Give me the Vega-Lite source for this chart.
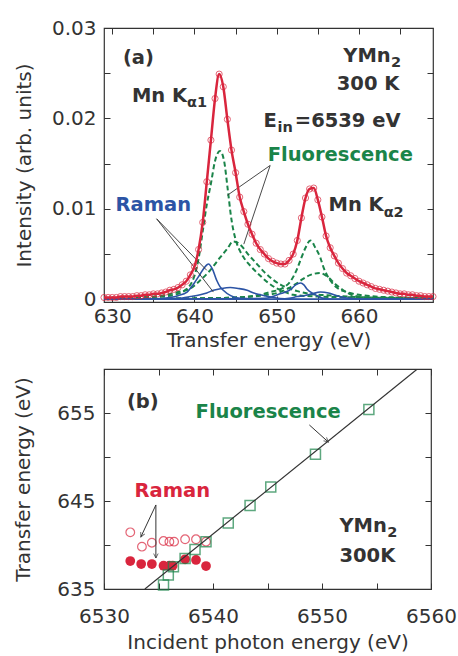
{
  "$schema": "https://vega.github.io/schema/vega-lite/v6.json",
  "background": "white",
  "padding": {"left": 13, "top": 17, "right": 0, "bottom": 0},
  "spacing": 7,
  "config": {
    "font": "DejaVu Sans",
    "view": {"stroke": "#333333", "strokeWidth": 1.2},
    "axis": {
      "grid": false, "domain": false,
      "tickColor": "#333333", "tickWidth": 1, "tickSize": -6,
      "labelFont": "DejaVu Sans", "labelFontSize": 20, "labelColor": "#333333",
      "labelPadding": 14, "labelFlush": false, "labelOverlap": false, "labelBound": false,
      "titleFont": "DejaVu Sans", "titleFontSize": 20, "titleFontWeight": "normal", "titleColor": "#333333"
    }
  },
  "datasets": {
    "tot": [
      {"x":629,"y":0.0002},{"x":629.5,"y":0.0002},{"x":630,"y":0.0002},{"x":630.5,"y":0.0002},
      {"x":631,"y":0.0003},{"x":631.5,"y":0.0003},{"x":632,"y":0.0003},{"x":632.5,"y":0.0003},
      {"x":633,"y":0.0004},{"x":633.5,"y":0.0004},{"x":634,"y":0.0005},{"x":634.5,"y":0.0005},
      {"x":635,"y":0.0006},{"x":635.5,"y":0.0006},{"x":636,"y":0.0007},{"x":636.5,"y":0.0008},
      {"x":637,"y":0.0010},{"x":637.5,"y":0.0011},{"x":638,"y":0.0013},{"x":638.5,"y":0.0016},
      {"x":639,"y":0.0020},{"x":639.5,"y":0.0027},{"x":640,"y":0.0036},{"x":640.5,"y":0.0055},
      {"x":641,"y":0.0085},{"x":641.5,"y":0.0130},{"x":642,"y":0.0176},{"x":642.5,"y":0.0222},
      {"x":643,"y":0.0249},{"x":643.5,"y":0.0235},{"x":644,"y":0.0199},{"x":644.5,"y":0.0165},
      {"x":645,"y":0.0140},{"x":645.5,"y":0.0113},{"x":646,"y":0.0097},{"x":646.5,"y":0.0083},
      {"x":647,"y":0.0072},{"x":647.5,"y":0.0062},{"x":648,"y":0.0055},{"x":648.5,"y":0.0050},
      {"x":649,"y":0.0045},{"x":649.5,"y":0.0042},{"x":650,"y":0.0040},{"x":650.5,"y":0.0039},
      {"x":651,"y":0.0039},{"x":651.5,"y":0.0043},{"x":652,"y":0.0050},{"x":652.5,"y":0.0065},
      {"x":653,"y":0.0090},{"x":653.5,"y":0.0112},{"x":654,"y":0.0122},{"x":654.5,"y":0.0123},
      {"x":655,"y":0.0110},{"x":655.5,"y":0.0091},{"x":656,"y":0.0070},{"x":656.5,"y":0.0057},
      {"x":657,"y":0.0048},{"x":657.5,"y":0.0040},{"x":658,"y":0.0034},{"x":658.5,"y":0.0029},
      {"x":659,"y":0.0026},{"x":659.5,"y":0.0023},{"x":660,"y":0.0020},{"x":660.5,"y":0.0018},
      {"x":661,"y":0.0016},{"x":661.5,"y":0.0014},{"x":662,"y":0.0012},{"x":662.5,"y":0.0011},
      {"x":663,"y":0.0010},{"x":663.5,"y":0.0009},{"x":664,"y":0.0008},{"x":664.5,"y":0.0007},
      {"x":665,"y":0.0006},{"x":665.5,"y":0.0006},{"x":666,"y":0.0005},{"x":666.5,"y":0.0005},
      {"x":667,"y":0.0004},{"x":667.5,"y":0.0004},{"x":668,"y":0.0003},{"x":668.5,"y":0.0003},
      {"x":669,"y":0.0003}
    ],
    "comp": [
      {"k":"F1","x":629,"y":0.0001},{"k":"F1","x":633,"y":0.0002},{"k":"F1","x":636,"y":0.0003},
      {"k":"F1","x":638,"y":0.0006},{"k":"F1","x":639,"y":0.0011},{"k":"F1","x":639.5,"y":0.0016},
      {"k":"F1","x":640,"y":0.0026},{"k":"F1","x":640.5,"y":0.0045},{"k":"F1","x":641,"y":0.0075},
      {"k":"F1","x":641.5,"y":0.0105},{"k":"F1","x":642,"y":0.0128},{"k":"F1","x":642.5,"y":0.0153},
      {"k":"F1","x":643.1,"y":0.0164},{"k":"F1","x":643.6,"y":0.0153},{"k":"F1","x":644,"y":0.0125},
      {"k":"F1","x":644.5,"y":0.0088},{"k":"F1","x":645,"y":0.0066},{"k":"F1","x":645.5,"y":0.0054},
      {"k":"F1","x":646,"y":0.0046},{"k":"F1","x":647,"y":0.0035},{"k":"F1","x":648,"y":0.0026},
      {"k":"F1","x":649,"y":0.0018},{"k":"F1","x":650,"y":0.0012},{"k":"F1","x":651,"y":0.0008},
      {"k":"F1","x":652,"y":0.0005},{"k":"F1","x":655,"y":0.0003},{"k":"F1","x":660,"y":0.0002},
      {"k":"F1","x":669,"y":0.0001},
      {"k":"F2","x":629,"y":0.0001},{"k":"F2","x":633,"y":0.0002},{"k":"F2","x":636,"y":0.0004},
      {"k":"F2","x":638,"y":0.0008},{"k":"F2","x":639.5,"y":0.0012},{"k":"F2","x":640.7,"y":0.0021},
      {"k":"F2","x":641.9,"y":0.0032},{"k":"F2","x":643.1,"y":0.0046},{"k":"F2","x":644,"y":0.0056},
      {"k":"F2","x":644.7,"y":0.0064},{"k":"F2","x":645.5,"y":0.0061},{"k":"F2","x":646.5,"y":0.0050},
      {"k":"F2","x":647.5,"y":0.0040},{"k":"F2","x":648.5,"y":0.0030},{"k":"F2","x":649.5,"y":0.0022},
      {"k":"F2","x":650.5,"y":0.0016},{"k":"F2","x":651.5,"y":0.0012},{"k":"F2","x":652.5,"y":0.0009},
      {"k":"F2","x":654,"y":0.0006},{"k":"F2","x":657,"y":0.0004},{"k":"F2","x":661,"y":0.0002},
      {"k":"F2","x":665,"y":0.00015},{"k":"F2","x":669,"y":0.0001},
      {"k":"F3","x":629,"y":0.00003},{"k":"F3","x":640,"y":0.0001},{"k":"F3","x":645,"y":0.0002},
      {"k":"F3","x":648,"y":0.0005},{"k":"F3","x":649.2,"y":0.0008},{"k":"F3","x":650.4,"y":0.0011},
      {"k":"F3","x":651,"y":0.0014},{"k":"F3","x":651.6,"y":0.0019},{"k":"F3","x":652.4,"y":0.0032},
      {"k":"F3","x":653,"y":0.0046},{"k":"F3","x":653.5,"y":0.0057},{"k":"F3","x":654.1,"y":0.0065},
      {"k":"F3","x":654.7,"y":0.0057},{"k":"F3","x":655.3,"y":0.0046},{"k":"F3","x":655.7,"y":0.0035},
      {"k":"F3","x":656.1,"y":0.0027},{"k":"F3","x":656.5,"y":0.0021},{"k":"F3","x":657.3,"y":0.0013},
      {"k":"F3","x":658.5,"y":0.0008},{"k":"F3","x":660,"y":0.0005},{"k":"F3","x":662,"y":0.0003},
      {"k":"F3","x":665,"y":0.0002},{"k":"F3","x":669,"y":0.0001},
      {"k":"F4","x":629,"y":0.00003},{"k":"F4","x":640,"y":0.0001},{"k":"F4","x":645,"y":0.0002},
      {"k":"F4","x":648,"y":0.0004},{"k":"F4","x":650.4,"y":0.0008},{"k":"F4","x":651.6,"y":0.0013},
      {"k":"F4","x":652.5,"y":0.0018},{"k":"F4","x":653.1,"y":0.0022},{"k":"F4","x":654.1,"y":0.0027},
      {"k":"F4","x":655.3,"y":0.0029},{"k":"F4","x":656.3,"y":0.0024},{"k":"F4","x":657.1,"y":0.0017},
      {"k":"F4","x":658.1,"y":0.0010},{"k":"F4","x":659.4,"y":0.0004},{"k":"F4","x":661,"y":0.0002},
      {"k":"F4","x":665,"y":0.0001},{"k":"F4","x":669,"y":0.00005},
      {"k":"R1","x":629,"y":0},{"k":"R1","x":635,"y":0.00005},{"k":"R1","x":637,"y":0.0002},
      {"k":"R1","x":638,"y":0.0004},{"k":"R1","x":639.1,"y":0.0008},{"k":"R1","x":639.9,"y":0.0017},
      {"k":"R1","x":640.7,"y":0.0028},{"k":"R1","x":641.2,"y":0.0035},{"k":"R1","x":641.7,"y":0.0039},
      {"k":"R1","x":642.2,"y":0.0033},{"k":"R1","x":642.7,"y":0.0021},{"k":"R1","x":643.1,"y":0.0014},
      {"k":"R1","x":643.5,"y":0.0010},{"k":"R1","x":644.4,"y":0.0004},{"k":"R1","x":645.5,"y":0.0001},
      {"k":"R1","x":648,"y":0},{"k":"R1","x":669,"y":0},
      {"k":"R2","x":629,"y":0},{"k":"R2","x":636,"y":0.00003},{"k":"R2","x":638,"y":0.0001},
      {"k":"R2","x":639.5,"y":0.0003},{"k":"R2","x":640.7,"y":0.0005},{"k":"R2","x":641.5,"y":0.0007},
      {"k":"R2","x":642.3,"y":0.0010},{"k":"R2","x":643.3,"y":0.0012},{"k":"R2","x":644.35,"y":0.0013},
      {"k":"R2","x":645.3,"y":0.0012},{"k":"R2","x":646.4,"y":0.0010},{"k":"R2","x":647.2,"y":0.0007},
      {"k":"R2","x":648,"y":0.0005},{"k":"R2","x":649.6,"y":0.0002},{"k":"R2","x":651,"y":0.00005},
      {"k":"R2","x":653,"y":0},{"k":"R2","x":669,"y":0},
      {"k":"R3","x":629,"y":0},{"k":"R3","x":648.5,"y":0.0001},{"k":"R3","x":649.5,"y":0.0003},
      {"k":"R3","x":650.4,"y":0.0006},{"k":"R3","x":651.1,"y":0.0008},{"k":"R3","x":651.7,"y":0.0011},
      {"k":"R3","x":652.3,"y":0.0016},{"k":"R3","x":652.9,"y":0.0018},{"k":"R3","x":653.3,"y":0.0016},
      {"k":"R3","x":653.7,"y":0.0011},{"k":"R3","x":654.5,"y":0.0006},{"k":"R3","x":655.1,"y":0.0003},
      {"k":"R3","x":655.7,"y":0.0001},{"k":"R3","x":657,"y":0},{"k":"R3","x":669,"y":0},
      {"k":"R4","x":629,"y":0},{"k":"R4","x":650,"y":0},{"k":"R4","x":651.5,"y":0.0001},
      {"k":"R4","x":652.5,"y":0.0003},{"k":"R4","x":653.3,"y":0.0004},{"k":"R4","x":654.3,"y":0.0006},
      {"k":"R4","x":655.3,"y":0.0008},{"k":"R4","x":656.3,"y":0.0007},{"k":"R4","x":657.3,"y":0.0004},
      {"k":"R4","x":658.2,"y":0.0002},{"k":"R4","x":659,"y":0.0001},{"k":"R4","x":660.5,"y":0},
      {"k":"R4","x":669,"y":0}
    ],
    "leadA": [
      {"x":635.4,"y":0.0089,"x2":641.5,"y2":0.0032},
      {"x":635.4,"y":0.0089,"x2":642.3,"y2":0.0008},
      {"x":649.2,"y":0.0148,"x2":644.0,"y2":0.0115},
      {"x":649.2,"y":0.0148,"x2":646.0,"y2":0.0061}
    ],
    "textA": [
      {"x":631.3,"y":0.0260,"t":"(a)","c":"k"},
      {"x":658.1,"y":0.0262,"t":"YMn","c":"k"},
      {"x":657.3,"y":0.0231,"t":"300 K","c":"k"},
      {"x":632.4,"y":0.0218,"t":"Mn K","c":"k"},
      {"x":648.4,"y":0.0190,"t":"E","c":"k"},
      {"x":652.2,"y":0.0190,"t":"=6539 eV","c":"k"},
      {"x":648.9,"y":0.0153,"t":"Fluorescence","c":"g"},
      {"x":630.4,"y":0.0098,"t":"Raman","c":"b"},
      {"x":656.3,"y":0.0098,"t":"Mn K","c":"k"}
    ],
    "subA": [
      {"x":663.9,"y":0.0257,"t":"2"},
      {"x":639.1,"y":0.0213,"t":"α1"},
      {"x":650.1,"y":0.0185,"t":"in"},
      {"x":663.0,"y":0.0091,"t":"α2"}
    ],
    "line": [
      {"x":6533.75,"y":635},{"x":6558.75,"y":660}
    ],
    "sq": [
      {"x":6535.46,"y":635.45},{"x":6535.9,"y":636.6},{"x":6536.37,"y":637.53},{"x":6537.44,"y":638.48},
      {"x":6538.35,"y":639.5},{"x":6539.36,"y":640.38},{"x":6541.4,"y":642.5},{"x":6543.4,"y":644.5},
      {"x":6545.3,"y":646.6},{"x":6549.4,"y":650.3},{"x":6554.3,"y":655.4}
    ],
    "ramOpen": [
      {"x":6532.41,"y":641.44},{"x":6533.48,"y":639.81},{"x":6534.39,"y":640.26},{"x":6535.46,"y":640.45},
      {"x":6536.0,"y":640.38},{"x":6536.43,"y":640.38},{"x":6537.44,"y":640.65},{"x":6538.44,"y":640.65},
      {"x":6539.36,"y":640.38}
    ],
    "ramFill": [
      {"x":6532.41,"y":638.18},{"x":6533.41,"y":637.84},{"x":6534.39,"y":637.84},{"x":6535.46,"y":637.65},
      {"x":6536.0,"y":637.65},{"x":6536.3,"y":637.65},{"x":6537.44,"y":638.38},{"x":6538.44,"y":638.3},
      {"x":6539.36,"y":637.61}
    ],
    "arrB": [
      {"a":"r1","x":6534.76,"y":644.55,"x2":6533.38,"y2":640.91},
      {"a":"r2","x":6534.76,"y":644.55,"x2":6534.76,"y2":638.52},
      {"a":"f","x":6548.84,"y":653.64,"x2":6550.58,"y2":651.7}
    ],
    "textB": [
      {"x":6532.1,"y":655.6,"t":"(b)","c":"k"},
      {"x":6538.4,"y":654.4,"t":"Fluorescence","c":"g"},
      {"x":6532.8,"y":645.4,"t":"Raman","c":"r"},
      {"x":6551.6,"y":641.5,"t":"YMn","c":"k"},
      {"x":6551.6,"y":638.1,"t":"300K","c":"k"}
    ],
    "subB": [
      {"x":6555.98,"y":640.9,"t":"2"}
    ]
  },
  "vconcat": [
    {
      "width": 329,
      "height": 274,
      "encoding": {
        "x": {"field": "x", "type": "quantitative", "scale": {"domain": [629, 669], "nice": false, "zero": false}, "axis": null},
        "y": {"field": "y", "type": "quantitative", "scale": {"domain": [-0.0003, 0.03], "nice": false, "zero": false}, "axis": null}
      },
      "layer": [
        {
          "data": {"name": "comp"},
          "transform": [{"filter": {"field": "k", "oneOf": ["F1", "F2", "F3", "F4"]}}],
          "mark": {"type": "line", "color": "#1a8449", "strokeWidth": 2, "strokeDash": [5, 3], "interpolate": "monotone"},
          "encoding": {"detail": {"field": "k"}}
        },
        {
          "data": {"name": "comp"},
          "transform": [{"filter": {"field": "k", "oneOf": ["R1", "R2", "R3", "R4"]}}],
          "mark": {"type": "line", "color": "#2c54a5", "strokeWidth": 1.6, "interpolate": "monotone"},
          "encoding": {"detail": {"field": "k"}}
        },
        {
          "data": {"name": "leadA"},
          "mark": {"type": "rule", "color": "#333333", "strokeWidth": 0.9},
          "encoding": {"x2": {"field": "x2"}, "y2": {"field": "y2"}}
        },
        {
          "data": {"name": "tot"},
          "mark": {"type": "line", "color": "#d9253d", "strokeWidth": 2.5, "interpolate": "monotone"},
          "encoding": {
            "x": {"field": "x", "type": "quantitative", "scale": {"domain": [629, 669], "nice": false, "zero": false},
                  "axis": {"orient": "bottom", "values": [630, 635, 640, 645, 650, 655, 660, 665], "labelExpr": "datum.value % 10 == 0 ? datum.label : ''", "labelPadding": 10, "title": "Transfer energy (eV)", "titlePadding": 4}},
            "y": {"field": "y", "type": "quantitative", "scale": {"domain": [-0.0003, 0.03], "nice": false, "zero": false},
                  "axis": {"orient": "left", "values": [0, 0.005, 0.01, 0.015, 0.02, 0.025, 0.03], "labelExpr": "datum.value == 0 ? '0' : (round(datum.value * 1000) % 10 == 0 ? format(datum.value, '.2f') : '')", "title": "Intensity (arb. units)", "titlePadding": 17}}
          }
        },
        {
          "data": {"name": "tot"},
          "mark": {"type": "point", "filled": false, "color": "#d9253d", "size": 38, "strokeWidth": 1},
          "encoding": {
            "x": {"field": "x", "type": "quantitative", "scale": {"domain": [629, 669], "nice": false, "zero": false},
                  "axis": {"orient": "top", "values": [630, 635, 640, 645, 650, 655, 660, 665], "labels": false, "title": null}},
            "y": {"field": "y", "type": "quantitative", "scale": {"domain": [-0.0003, 0.03], "nice": false, "zero": false},
                  "axis": {"orient": "right", "values": [0, 0.005, 0.01, 0.015, 0.02, 0.025, 0.03], "labels": false, "title": null}}
          }
        },
        {
          "data": {"name": "textA"},
          "mark": {"type": "text", "fontSize": 19.5, "fontWeight": "bold", "align": "left", "baseline": "alphabetic"},
          "encoding": {
            "text": {"field": "t"},
            "color": {"field": "c", "type": "nominal", "scale": {"domain": ["k", "g", "b", "r"], "range": ["#333333", "#1a8449", "#2c54a5", "#d9253d"]}, "legend": null}
          }
        },
        {
          "data": {"name": "subA"},
          "mark": {"type": "text", "fontSize": 14.5, "fontWeight": "bold", "align": "left", "baseline": "alphabetic", "color": "#333333"},
          "encoding": {"text": {"field": "t"}}
        }
      ],
      "resolve": {"axis": {"x": "independent", "y": "independent"}}
    },
    {
      "width": 327,
      "height": 220,
      "encoding": {
        "x": {"field": "x", "type": "quantitative", "scale": {"domain": [6530, 6560], "nice": false, "zero": false}, "axis": null},
        "y": {"field": "y", "type": "quantitative", "scale": {"domain": [635, 660], "nice": false, "zero": false}, "axis": null}
      },
      "layer": [
        {
          "data": {"name": "ramFill"},
          "mark": {"type": "point", "filled": true, "color": "#d9253d", "opacity": 1, "size": 95},
          "encoding": {
            "x": {"field": "x", "type": "quantitative", "scale": {"domain": [6530, 6560], "nice": false, "zero": false},
                  "axis": {"orient": "top", "values": [6530, 6535, 6540, 6545, 6550, 6555, 6560], "labels": false, "title": null}},
            "y": {"field": "y", "type": "quantitative", "scale": {"domain": [635, 660], "nice": false, "zero": false},
                  "axis": {"orient": "right", "values": [635, 640, 645, 650, 655, 660], "labels": false, "title": null}}
          }
        },
        {
          "data": {"name": "ramOpen"},
          "mark": {"type": "point", "filled": false, "color": "#d9253d", "size": 75, "strokeWidth": 1.2}
        },
        {
          "data": {"name": "sq"},
          "mark": {"type": "point", "shape": "square", "filled": false, "color": "#1a8449", "size": 100, "strokeWidth": 1.5},
          "encoding": {
            "x": {"field": "x", "type": "quantitative", "scale": {"domain": [6530, 6560], "nice": false, "zero": false},
                  "axis": {"orient": "bottom", "values": [6530, 6535, 6540, 6545, 6550, 6555, 6560], "format": "d", "labelExpr": "datum.value % 10 == 0 ? datum.label : ''", "labelPadding": 23, "title": "Incident photon energy (eV)", "titlePadding": 6}},
            "y": {"field": "y", "type": "quantitative", "scale": {"domain": [635, 660], "nice": false, "zero": false},
                  "axis": {"orient": "left", "values": [635, 640, 645, 650, 655, 660], "labelExpr": "datum.value % 10 == 5 ? datum.label : ''", "labelPadding": 15, "title": "Transfer energy (eV)", "titlePadding": 23}}
          }
        },
        {
          "data": {"name": "line"},
          "mark": {"type": "line", "color": "#333333", "strokeWidth": 1.2, "clip": true},
          "encoding": {}
        },
        {
          "data": {"name": "arrB"},
          "mark": {"type": "rule", "color": "#333333", "strokeWidth": 1},
          "encoding": {"x2": {"field": "x2"}, "y2": {"field": "y2"}}
        },
        {
          "data": {"name": "arrB"},
          "transform": [{"filter": "datum.a == 'r1'"}],
          "mark": {"type": "point", "shape": "M-0.5,1L0,0L0.5,1", "filled": false, "color": "#333333", "strokeWidth": 1, "size": 80, "angle": 205},
          "encoding": {"x": {"field": "x2", "type": "quantitative", "axis": null}, "y": {"field": "y2", "type": "quantitative", "axis": null}}
        },
        {
          "data": {"name": "arrB"},
          "transform": [{"filter": "datum.a == 'r2'"}],
          "mark": {"type": "point", "shape": "M-0.5,1L0,0L0.5,1", "filled": false, "color": "#333333", "strokeWidth": 1, "size": 80, "angle": 180},
          "encoding": {"x": {"field": "x2", "type": "quantitative", "axis": null}, "y": {"field": "y2", "type": "quantitative", "axis": null}}
        },
        {
          "data": {"name": "arrB"},
          "transform": [{"filter": "datum.a == 'f'"}],
          "mark": {"type": "point", "shape": "M-0.5,1L0,0L0.5,1", "filled": false, "color": "#333333", "strokeWidth": 1, "size": 80, "angle": 132},
          "encoding": {"x": {"field": "x2", "type": "quantitative", "axis": null}, "y": {"field": "y2", "type": "quantitative", "axis": null}}
        },
        {
          "data": {"name": "textB"},
          "mark": {"type": "text", "fontSize": 19.5, "fontWeight": "bold", "align": "left", "baseline": "alphabetic"},
          "encoding": {
            "text": {"field": "t"},
            "color": {"field": "c", "type": "nominal", "scale": {"domain": ["k", "g", "b", "r"], "range": ["#333333", "#1a8449", "#2c54a5", "#d9253d"]}, "legend": null}
          }
        },
        {
          "data": {"name": "subB"},
          "mark": {"type": "text", "fontSize": 14.5, "fontWeight": "bold", "align": "left", "baseline": "alphabetic", "color": "#333333"},
          "encoding": {"text": {"field": "t"}}
        }
      ],
      "resolve": {"axis": {"x": "independent", "y": "independent"}}
    }
  ]
}
